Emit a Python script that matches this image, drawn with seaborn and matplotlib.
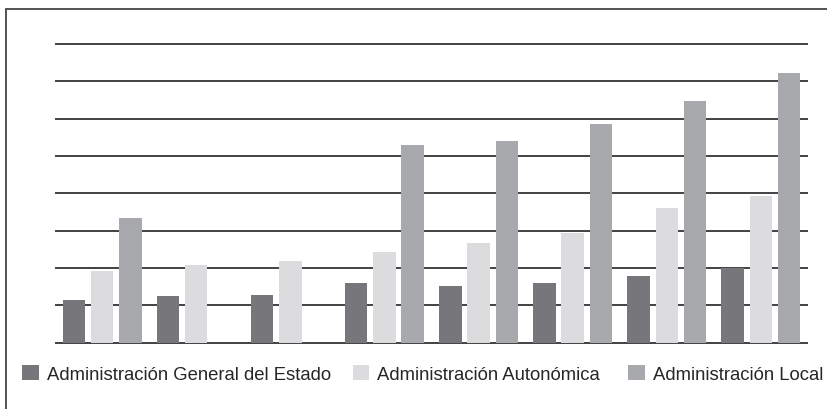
import matplotlib
matplotlib.use("Agg")
import matplotlib.pyplot as plt
import matplotlib.patches as mpatches
import seaborn as sns
import pandas as pd
import numpy as np

groups = ["1", "2", "3", "4", "5", "6", "7", "8"]
series = ["Administración General del Estado", "Administración Autonómica", "Administración Local"]
estado = [1.14, 1.25, 1.28, 1.60, 1.52, 1.60, 1.79, 2.01]
autonomica = [1.92, 2.08, 2.19, 2.43, 2.67, 2.94, 3.61, 3.93]
local = [3.34, np.nan, np.nan, 5.30, 5.41, 5.86, 6.48, 7.22]
colors = ["#77777b", "#dcdcde", "#a8a9ac"]

df = pd.DataFrame({
    "grupo": groups * 3,
    "serie": [series[0]] * 8 + [series[1]] * 8 + [series[2]] * 8,
    "valor": estado + autonomica + local,
})

sns.set_theme(style="white")
plt.rcParams["font.family"] = ["Liberation Sans", "DejaVu Sans"]

W, H = 828, 410
fig = plt.figure(figsize=(W / 100, H / 100), dpi=100)
lo, hi = -0.1, 8.1
ppu = (343.7 - 45) / 8
ax = fig.add_axes([55 / W, 1 - (343.7 + 0.1 * ppu) / H, (808 - 55) / W, (8.2 * ppu) / H])

sns.barplot(data=df, x="grupo", y="valor", hue="serie", hue_order=series,
            order=groups, palette=colors, width=0.9, gap=0.2, saturation=1,
            edgecolor="none", linewidth=0, ax=ax, legend=False)

ax.set_xlim(-0.5, 7.5)
ax.set_ylim(lo, hi)
ax.set_yticks(range(0, 9))
ax.set_axisbelow(True)
ax.yaxis.grid(True, color="#333333", linewidth=1.3)
ax.xaxis.grid(False)
ax.set_xticklabels([])
ax.set_yticklabels([])
ax.tick_params(length=0)
ax.set_xlabel("")
ax.set_ylabel("")
for s in ax.spines.values():
    s.set_visible(False)
ax.patch.set_alpha(0)

# frame around the figure
fig.patches.append(mpatches.Rectangle((6 / W, -0.1), 1.2, 1 - 10 / H + 0.1,
                                      transform=fig.transFigure, fill=False,
                                      edgecolor="#444444", linewidth=1.3))

# legend entries, placed individually
legend_x = [22, 352.7, 628.3]
for c, l, x0 in zip(colors, series, legend_x):
    h = mpatches.Patch(facecolor=c, edgecolor="none", label=l)
    fig.legend(handles=[h], loc="center left", bbox_to_anchor=(x0 / W, 1 - 375 / H),
               frameon=False, fontsize=13.35, handlelength=0.9, handleheight=0.9,
               handletextpad=0.43, borderpad=0, borderaxespad=0)

fig.savefig("out.png", dpi=100)
